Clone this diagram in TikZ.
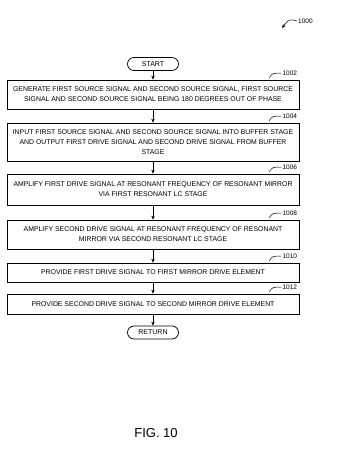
\documentclass[tikz,border=0pt]{standalone}
\usepackage{fontspec}
\setmainfont{Liberation Sans}
\usetikzlibrary{arrows.meta}

\begin{document}
\begin{tikzpicture}[x=1pt,y=-1pt,
  >={Stealth[length=4pt,width=3.4pt]},
  stepbox/.style={draw,line width=0.75pt,minimum width=292pt,inner sep=0pt,
    align=center,font=\fontsize{6.9}{10}\selectfont},
  term/.style={draw,line width=0.75pt,rounded corners=6.5pt,minimum width=51pt,
    minimum height=13pt,inner sep=0pt,font=\fontsize{7}{8}\selectfont},
  ref/.style={inner sep=1pt,font=\fontsize{6.5}{7}\selectfont}]
 \useasboundingbox (0,0) rectangle (342,454);
 % terminals and steps
 \node[term] (start) at (153,64) {START};
 \node[stepbox,minimum height=29pt] (s1002) at (153,94.5)
   {GENERATE FIRST SOURCE SIGNAL AND SECOND SOURCE SIGNAL, FIRST SOURCE\\
    SIGNAL AND SECOND SOURCE SIGNAL BEING 180 DEGREES OUT OF PHASE};
 \node[stepbox,minimum height=38pt] (s1004) at (153,142)
   {INPUT FIRST SOURCE SIGNAL AND SECOND SOURCE SIGNAL INTO BUFFER STAGE\\
    AND OUTPUT FIRST DRIVE SIGNAL AND SECOND DRIVE SIGNAL FROM BUFFER\\
    STAGE};
 \node[stepbox,minimum height=31pt] (s1006) at (153,189.5)
   {AMPLIFY FIRST DRIVE SIGNAL AT RESONANT FREQUENCY OF RESONANT MIRROR\\
    VIA FIRST RESONANT LC STAGE};
 \node[stepbox,minimum height=29pt] (s1008) at (153,234.5)
   {AMPLIFY SECOND DRIVE SIGNAL AT RESONANT FREQUENCY OF RESONANT\\
    MIRROR VIA SECOND RESONANT LC STAGE};
 \node[stepbox,minimum height=19pt] (s1010) at (153,272.5)
   {PROVIDE FIRST DRIVE SIGNAL TO FIRST MIRROR DRIVE ELEMENT};
 \node[stepbox,minimum height=20pt] (s1012) at (153,304)
   {PROVIDE SECOND DRIVE SIGNAL TO SECOND MIRROR DRIVE ELEMENT};
 \node[term] (return) at (153,332.5) {RETURN};
 % flow
 \draw[->] (start) -- (s1002);
 \draw[->] (s1002) -- (s1004);
 \draw[->] (s1004) -- (s1006);
 \draw[->] (s1006) -- (s1008);
 \draw[->] (s1008) -- (s1010);
 \draw[->] (s1010) -- (s1012);
 \draw[->] (s1012) -- (return);
 % reference numerals
 \foreach \n in {1002,1004,...,1012}
   \draw[line width=0.5pt] ([shift={(-30,-2)}]s\n.north east)
     .. controls ([shift={(-27,-6.5)}]s\n.north east) .. ([shift={(-18,-6.5)}]s\n.north east)
     node[ref,right] {\n};
 \node[ref,anchor=west] (f1000) at (297,21) {1000};
 \coordinate (p1000) at (282,28);
 \draw[->,line width=0.5pt] (f1000.west) .. controls (289,19) .. (p1000);
 \node[font=\fontsize{13}{15}\selectfont] (fig) at (156,433) {FIG. 10};
\end{tikzpicture}
\end{document}
